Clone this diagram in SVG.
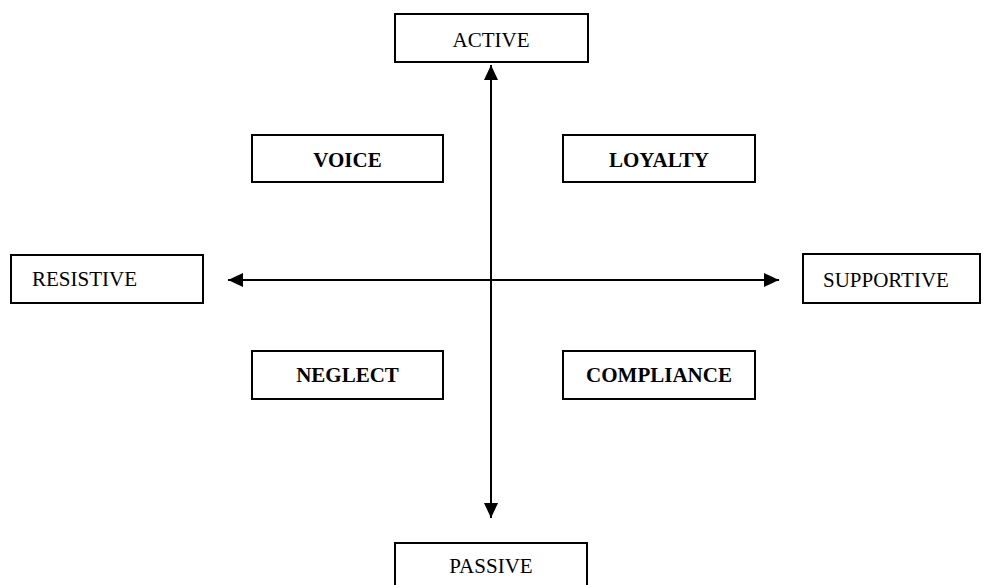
<svg xmlns="http://www.w3.org/2000/svg" width="983" height="585" viewBox="0 0 983 585">
<style>
.box{fill:#fff;stroke:#000;stroke-width:2}
.t{font-family:"Liberation Serif","Times New Roman",serif;font-size:21px;fill:#000}
.b{font-weight:bold}
.ax{stroke:#000;stroke-width:2;fill:none}
</style>
<defs>
<marker id="ah" markerUnits="userSpaceOnUse" markerWidth="16" markerHeight="16" viewBox="0 0 16 16" refX="15" refY="8" orient="auto-start-reverse">
<path d="M0,1 L15,8 L0,15 Z" fill="#000"/>
</marker>
</defs>
<g id="connectors">
<line class="ax" x1="491" y1="518" x2="491" y2="65" marker-start="url(#ah)" marker-end="url(#ah)"/>
<line class="ax" x1="228" y1="280" x2="779" y2="280" marker-start="url(#ah)" marker-end="url(#ah)"/>
</g>
<g id="active"><rect class="box" x="395" y="14" width="193" height="48"/><text class="t" x="491" y="47" text-anchor="middle">ACTIVE</text></g>
<g id="passive"><rect class="box" x="395" y="543" width="192" height="50"/><text class="t" x="491" y="573" text-anchor="middle">PASSIVE</text></g>
<g id="resistive"><rect class="box" x="11" y="255" width="192" height="48"/><text class="t" x="32" y="286">RESISTIVE</text></g>
<g id="supportive"><rect class="box" x="803" y="254" width="177" height="49"/><text class="t" x="823" y="287">SUPPORTIVE</text></g>
<g id="voice"><rect class="box" x="252" y="135" width="191" height="47"/><text class="t b" x="347.5" y="167" text-anchor="middle">VOICE</text></g>
<g id="loyalty"><rect class="box" x="563" y="135" width="192" height="47"/><text class="t b" x="659" y="167" text-anchor="middle">LOYALTY</text></g>
<g id="neglect"><rect class="box" x="252" y="351" width="191" height="48"/><text class="t b" x="347.5" y="382" text-anchor="middle">NEGLECT</text></g>
<g id="compliance"><rect class="box" x="563" y="351" width="192" height="48"/><text class="t b" x="659" y="382" text-anchor="middle">COMPLIANCE</text></g>
</svg>
